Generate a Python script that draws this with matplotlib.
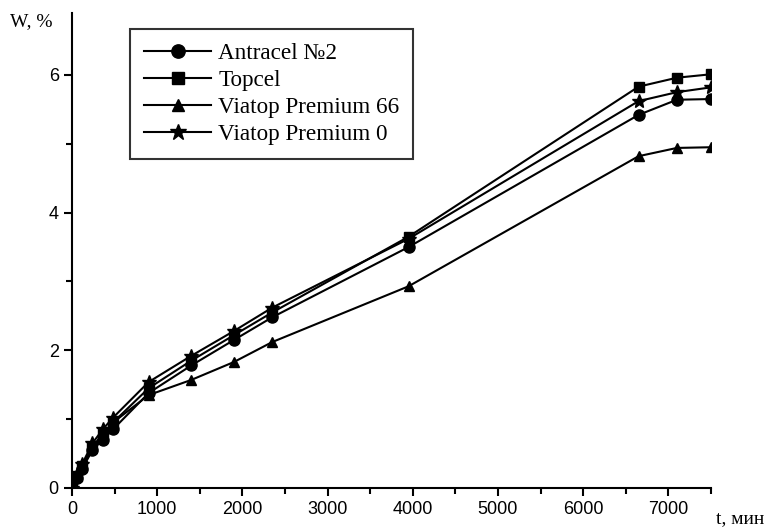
import matplotlib
matplotlib.use('Agg')
import matplotlib.pyplot as plt
from matplotlib.ticker import MultipleLocator

# time, min
t = [0, 60, 120, 240, 360, 480, 900, 1400, 1900, 2350, 3950, 6650, 7100, 7500]

antracel = [0, 0.15, 0.28, 0.55, 0.70, 0.85, 1.38, 1.78, 2.15, 2.48, 3.50, 5.42, 5.64, 5.65]
topcel = [0, 0.18, 0.32, 0.60, 0.78, 0.95, 1.45, 1.85, 2.22, 2.55, 3.65, 5.83, 5.96, 6.01]
viatop66 = [0, 0.17, 0.30, 0.58, 0.78, 0.95, 1.35, 1.57, 1.83, 2.12, 2.93, 4.82, 4.94, 4.95]
viatop0 = [0, 0.20, 0.35, 0.65, 0.85, 1.02, 1.54, 1.92, 2.28, 2.62, 3.62, 5.62, 5.75, 5.82]

labels = ['Antracel №2', 'Topcel', 'Viatop Premium 66', 'Viatop Premium 0']
series = [antracel, topcel, viatop66, viatop0]
markers = ['o', 's', '^', '*']
msizes = [8, 7, 7.5, 10]

fig = plt.figure(figsize=(7.67, 5.32), dpi=100)
W, H = 767, 532
ax = fig.add_axes([72 / W, (H - 488) / H, (711 - 72) / W, (488 - 13) / H])

for y, lab, m, ms in zip(series, labels, markers, msizes):
    ax.plot(t, y, color='black', lw=1.5, marker=m, markersize=ms, label=lab)

ax.set_xlim(0, 7500)
ax.set_ylim(0, 6.9)
ax.xaxis.set_major_locator(MultipleLocator(1000))
ax.xaxis.set_minor_locator(MultipleLocator(500))
ax.yaxis.set_major_locator(MultipleLocator(2))
ax.yaxis.set_minor_locator(MultipleLocator(1))
ax.spines['top'].set_visible(False)
ax.spines['right'].set_visible(False)
for s in ['left', 'bottom']:
    ax.spines[s].set_linewidth(1.5)
ax.tick_params(which='major', direction='out', length=6, width=1.5, labelsize=13)
ax.tick_params(which='minor', direction='out', length=4, width=1.5)
for lbl in ax.get_xticklabels() + ax.get_yticklabels():
    lbl.set_family('Liberation Sans')

leg = ax.legend(loc='upper left', bbox_to_anchor=(130 / W, 1 - 29 / H), bbox_transform=fig.transFigure,
                prop={'family': 'Liberation Serif', 'size': 16.7}, frameon=True, fancybox=False,
                edgecolor='black', handlelength=2.9, handletextpad=0.3, labelspacing=0.25,
                borderpad=0.6, borderaxespad=0, markerscale=1.2)
leg.get_frame().set_linewidth(1.5)

fig.text(10 / W, 1 - 22 / H, 'W, %', family='Liberation Serif', fontsize=14, va='center', ha='left')
fig.text(716 / W, 1 - 519 / H, 't, мин', family='Liberation Serif', fontsize=14, va='center', ha='left')

fig.savefig('out.png', dpi=100)
